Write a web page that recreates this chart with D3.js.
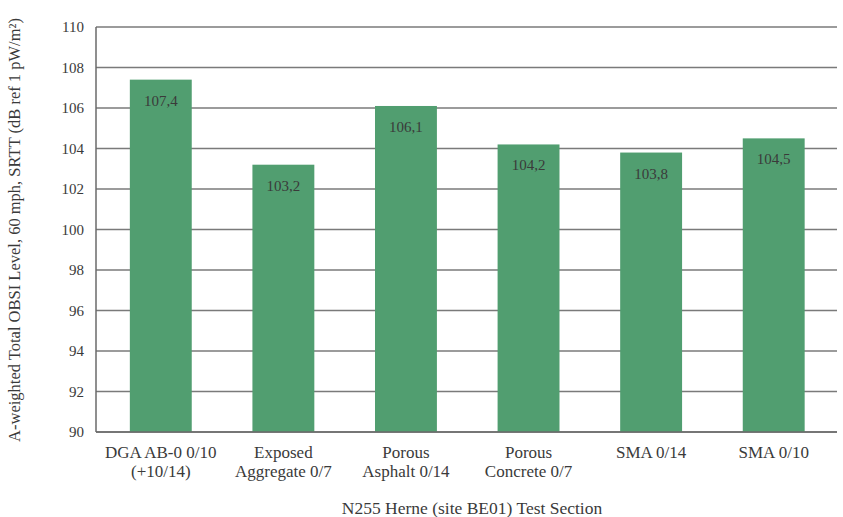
<!DOCTYPE html>
<html><head><meta charset="utf-8">
<script src="https://cdn.jsdelivr.net/npm/d3@7"></script>
<style>
body{margin:0;background:#fff;}
text{font-family:"Liberation Serif","Noto Serif",serif;fill:#3a3a3a;font-variant-numeric:oldstyle-nums;}
</style></head><body>
<svg id="c" width="843" height="517"></svg>
<script>
const categories = [["DGA AB-0 0/10","(+10/14)"],["Exposed","Aggregate 0/7"],["Porous","Asphalt 0/14"],["Porous","Concrete 0/7"],["SMA 0/14"],["SMA 0/10"]];
const values = [107.4, 103.2, 106.1, 104.2, 103.8, 104.5];
const valueLabels = ["107,4","103,2","106,1","104,2","103,8","104,5"];
const yTicks = [90,92,94,96,98,100,102,104,106,108,110];
const yTitle = "A-weighted Total OBSI Level, 60 mph, SRTT (dB ref 1 pW/m²)";
const xTitle = "N255 Herne (site BE01) Test Section";

const svg = d3.select("#c");
const L = 96, R = 837, T = 27, B = 432;
const x = d3.scaleBand().domain(d3.range(values.length)).range([99.5, 835]).paddingInner(0.495).paddingOuter(0.2475);
const y = d3.scaleLinear().domain([90,110]).range([B, T]);

// gridlines
svg.append("g").selectAll("line").data(yTicks).join("line")
  .attr("x1", L).attr("x2", R).attr("y1", d=>y(d)).attr("y2", d=>y(d))
  .attr("stroke", "#7a7a7a").attr("stroke-width", 1.5);

// bars
svg.append("g").selectAll("rect").data(values).join("rect")
  .attr("x", (d,i)=>x(i)).attr("width", x.bandwidth())
  .attr("y", d=>y(d)).attr("height", d=>B - y(d))
  .attr("fill", "#519e70");

// axis lines
svg.append("line").attr("x1", L).attr("x2", L).attr("y1", T).attr("y2", B)
  .attr("stroke", "#6a6a6a").attr("stroke-width", 1.5);
svg.append("line").attr("x1", L).attr("x2", R).attr("y1", B).attr("y2", B)
  .attr("stroke", "#6a6a6a").attr("stroke-width", 1.5);

// y tick labels
svg.append("g").selectAll("text").data(yTicks).join("text")
  .attr("x", 84).attr("y", d=>y(d)).attr("dy", "0.35em")
  .attr("text-anchor", "end").attr("font-size", 15).text(d=>d);

// value labels
svg.append("g").selectAll("text").data(values).join("text")
  .attr("x", (d,i)=>x(i) + x.bandwidth()/2).attr("y", d=>y(d) + 26)
  .attr("text-anchor", "middle").attr("font-size", 15).attr("fill", "#2f4a3a")
  .text((d,i)=>valueLabels[i]);

// category labels
const cg = svg.append("g").selectAll("text").data(categories).join("text")
  .attr("x", (d,i)=>x(i) + x.bandwidth()/2).attr("y", 458)
  .attr("text-anchor", "middle").attr("font-size", 17);
cg.selectAll("tspan").data(d=>d).join("tspan")
  .attr("x", function(){return this.parentNode.getAttribute("x");})
  .attr("dy", (d,j)=> j===0 ? 0 : 18.5).text(d=>d);

// axis titles
svg.append("text").attr("x", 472).attr("y", 514).attr("text-anchor", "middle")
  .attr("font-size", 17.5).text(xTitle);
svg.append("text").attr("transform", "translate(20,230) rotate(-90)")
  .attr("text-anchor", "middle").attr("font-size", 16.5).text(yTitle);
</script>
</body></html>
